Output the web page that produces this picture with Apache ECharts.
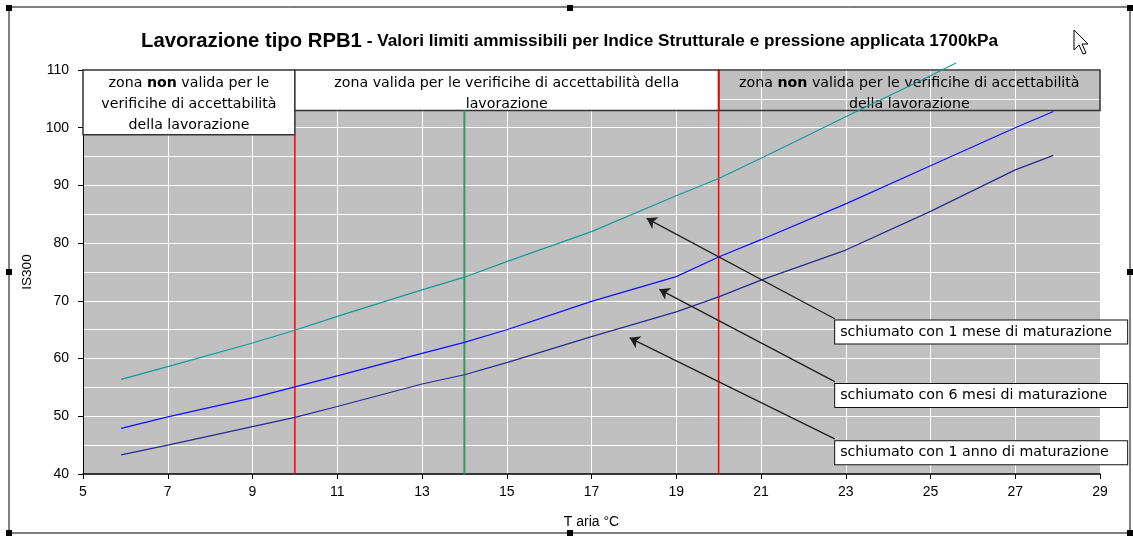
<!DOCTYPE html>
<html><head><meta charset="utf-8">
<script src="https://cdn.jsdelivr.net/npm/echarts@6/dist/echarts.min.js"></script>
<style>html,body{margin:0;padding:0;background:#fff}#c{width:1133px;height:538px}</style>
</head><body><div id="c"></div>
<script>
// ---- data ----
const tempMese1 = [5.9, 7, 9, 10, 11, 13, 14, 15, 17, 19, 20, 21, 23, 25, 25.6];
const valMese1  = [56.4, 58.6, 62.7, 64.9, 67.3, 71.9, 74.1, 76.8, 82.0, 88.2, 91.2, 94.7, 101.9, 109.0, 111.2];
const tempOther = [5.9, 7, 9, 10, 11, 13, 14, 15, 17, 19, 20, 21, 23, 25, 27, 27.9];
const valMesi6  = [47.9, 49.9, 53.2, 55.1, 57.0, 60.9, 62.8, 65.0, 69.9, 74.2, 77.6, 80.6, 86.8, 93.4, 100.0, 102.8];
const valAnno1  = [43.3, 45.0, 48.2, 49.8, 51.7, 55.6, 57.2, 59.3, 63.8, 68.1, 70.7, 73.6, 78.8, 85.5, 92.7, 95.2];
const seriesNames = ['schiumato con 1 mese di maturazione', 'schiumato con 6 mesi di maturazione', 'schiumato con 1 anno di maturazione'];
const limitRedX = [10, 20];
const limitGreenX = 14;
const zoneEdges = [5, 10, 20, 29];
const zoneBottoms = [98.8, 103, 103];
const zoneTexts = [
  'zona {b|non} valida per le\nverificihe di accettabilità\ndella lavorazione',
  'zona valida per le verificihe di accettabilità della\nlavorazione',
  'zona {b|non} valida per le verificihe di accettabilità\ndella lavorazione'
];
const labelAnchors = [[22.75, 64.6], [22.75, 53.6], [22.75, 43.7]];
const arrowTails = [[22.74, 66.9], [22.74, 56.0], [22.74, 46.1]];
const arrowHeads = [[18.3, 84.3], [18.6, 72.0], [17.9, 63.6]];
const xMin = 5, xMax = 29, xStep = 2, yMin = 40, yMax = 110, yStep = 10;
const titleMain = 'Lavorazione tipo RPB1';
const titleSub = ' - Valori limiti ammissibili per Indice Strutturale e pressione applicata 1700kPa';

const zip = (xs, ys) => xs.map((x, i) => [x, ys[i]]);
const annoFont = 'DejaVu Sans';
const zoneFill = ['#ffffff', '#ffffff', 'rgba(0,0,0,0)'];
const zoneOffset = [[0, 2], [0, 4], [0, 4]];

const chart = echarts.init(document.getElementById('c'), null, {renderer: 'canvas'});
const option = {
  animation: false,
  backgroundColor: '#ffffff',
  title: {
    text: '{a|' + titleMain + '}{b|' + titleSub + '}',
    left: 141, top: 31, padding: 0,
    textStyle: {
      rich: {
        a: {fontSize: 20.3, fontWeight: 'bold', fontFamily: 'Liberation Sans', color: '#000'},
        b: {fontSize: 17.2, fontWeight: 'bold', fontFamily: 'Liberation Sans', color: '#000'}
      }
    }
  },
  grid: {left: 83, right: 33, top: 70, bottom: 64, show: true, backgroundColor: '#c0c0c0', borderWidth: 0},
  xAxis: {
    type: 'value', min: xMin, max: xMax, interval: xStep,
    name: 'T aria °C', nameLocation: 'middle', nameGap: 41,
    nameTextStyle: {fontFamily: 'Liberation Sans', fontSize: 14, color: '#000'},
    axisLine: {show: true, onZero: false, lineStyle: {color: '#000', width: 1.5}},
    axisTick: {show: true, length: 5, lineStyle: {color: '#000'}},
    axisLabel: {fontFamily: 'Liberation Sans', fontSize: 14, color: '#000', margin: 11},
    splitLine: {show: true, lineStyle: {color: '#ffffff', width: 1}}
  },
  yAxis: {
    type: 'value', min: yMin, max: yMax, interval: yStep,
    name: 'IS300', nameLocation: 'middle', nameGap: 49,
    nameTextStyle: {fontFamily: 'Liberation Sans', fontSize: 13.5, color: '#000'},
    axisLine: {show: true, onZero: false, lineStyle: {color: '#000', width: 1}},
    axisTick: {show: true, length: 5, lineStyle: {color: '#000'}},
    axisLabel: {fontFamily: 'Liberation Sans', fontSize: 14, color: '#000', margin: 14},
    splitLine: {show: true, lineStyle: {color: '#ffffff', width: 1}},
    minorTick: {show: false, splitNumber: 2},
    minorSplitLine: {show: true, lineStyle: {color: '#ffffff', width: 1}}
  },
  series: [
    {
      name: 'zones', type: 'line', data: [], z: 1, silent: true,
      markArea: {
        silent: true,
        data: zoneTexts.map((t, i) => [
          {coord: [zoneEdges[i], yMax], itemStyle: {color: zoneFill[i], borderColor: '#333', borderWidth: 1.5},
           label: {show: true, position: 'inside', formatter: t, color: '#000', fontFamily: annoFont, fontSize: 14.2,
                   lineHeight: 21, align: 'center', verticalAlign: 'middle', offset: zoneOffset[i],
                   rich: {b: {fontFamily: annoFont, fontWeight: 'bold', fontSize: 14.2, lineHeight: 21, color: '#000'}}}},
          {coord: [zoneEdges[i + 1], zoneBottoms[i]]}
        ])
      }
    },
    {
      name: 'limitRed1', type: 'line', z: 2, silent: true, symbol: 'none',
      lineStyle: {color: '#ff0000', width: 1.5},
      data: [[limitRedX[0], yMin], [limitRedX[0], zoneBottoms[0]]]
    },
    {
      name: 'limitRed2', type: 'line', z: 2, silent: true, symbol: 'none',
      lineStyle: {color: '#ff0000', width: 1.5},
      data: [[limitRedX[1], yMin], [limitRedX[1], yMax]]
    },
    {
      name: 'limitGreen', type: 'line', z: 2, silent: true, symbol: 'none',
      lineStyle: {color: '#339966', width: 2},
      data: [[limitGreenX, yMin], [limitGreenX, zoneBottoms[1]]]
    },
    {
      name: seriesNames[0], type: 'line', z: 3, symbol: 'none', clip: false,
      lineStyle: {color: '#169a9a', width: 1.2}, data: zip(tempMese1, valMese1)
    },
    {
      name: seriesNames[1], type: 'line', z: 3, symbol: 'none',
      lineStyle: {color: '#1010ff', width: 1.2}, data: zip(tempOther, valMesi6)
    },
    {
      name: seriesNames[2], type: 'line', z: 3, symbol: 'none',
      lineStyle: {color: '#2a2a8e', width: 1.2}, data: zip(tempOther, valAnno1)
    },
    {
      name: 'annotations', type: 'line', data: [], z: 4, silent: true,
      markLine: {
        silent: true, symbol: ['none', 'arrow'], symbolSize: 10,
        lineStyle: {color: '#202020', width: 1.3, type: 'solid'},
        label: {show: false},
        data: arrowTails.map((t, i) => [{coord: t}, {coord: arrowHeads[i]}])
      },
      markPoint: {
        silent: true, symbol: 'rect', symbolSize: 0,
        data: labelAnchors.map((c, i) => ({
          coord: c,
          label: {show: true, position: 'right', distance: 0, formatter: seriesNames[i],
                  color: '#000', fontFamily: annoFont, fontSize: 14.2, width: 282, overflow: 'none',
                  backgroundColor: '#ffffff', borderColor: '#111', borderWidth: 1, padding: [5, 5, 4, 5]}
        }))
      }
    }
  ],
  graphic: [
    {type: 'rect', shape: {x: 9, y: 7, width: 1121, height: 526}, style: {fill: 'none', stroke: '#000', lineWidth: 1}, silent: true},
    {type: 'rect', shape: {x: 6, y: 5, width: 6, height: 6}, style: {fill: '#000'}},
    {type: 'rect', shape: {x: 567, y: 5, width: 6, height: 6}, style: {fill: '#000'}},
    {type: 'rect', shape: {x: 1127, y: 5, width: 6, height: 6}, style: {fill: '#000'}},
    {type: 'rect', shape: {x: 6, y: 269, width: 6, height: 6}, style: {fill: '#000'}},
    {type: 'rect', shape: {x: 1127, y: 269, width: 6, height: 6}, style: {fill: '#000'}},
    {type: 'rect', shape: {x: 6, y: 530, width: 6, height: 6}, style: {fill: '#000'}},
    {type: 'rect', shape: {x: 567, y: 530, width: 6, height: 6}, style: {fill: '#000'}},
    {type: 'rect', shape: {x: 1127, y: 530, width: 6, height: 6}, style: {fill: '#000'}},
    {type: 'polygon', shape: {points: [[1074, 30], [1074, 50], [1079, 45], [1083, 54], [1086, 53], [1082, 44], [1088, 44]]},
     style: {fill: '#fff', stroke: '#000', lineWidth: 1}}
  ]
};
chart.setOption(option);
</script>
</body></html>
